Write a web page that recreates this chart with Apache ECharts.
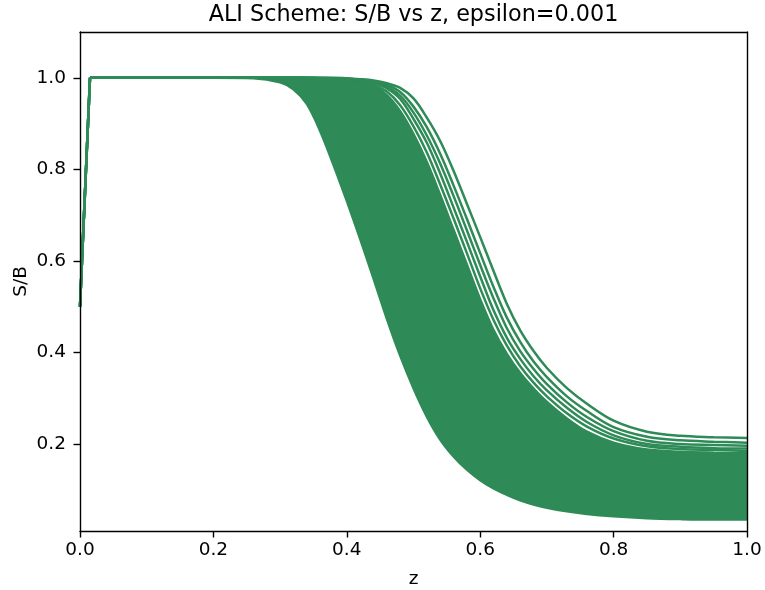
<!DOCTYPE html>
<html>
<head>
<meta charset="utf-8">
<script src="https://cdn.jsdelivr.net/npm/echarts@6/dist/echarts.min.js"></script>
<style>
  html, body { margin: 0; padding: 0; background: #ffffff; }
  #chart { width: 765px; height: 590px; }
</style>
</head>
<body>
<div id="chart"></div>
<script>
// Sample positions along z shared by every curve
const zGrid = [0, 0.015, 0.1, 0.2, 0.26, 0.30, 0.32, 0.34, 0.36, 0.38, 0.40, 0.42, 0.44, 0.46, 0.48,
  0.50, 0.52, 0.54, 0.56, 0.58, 0.60, 0.62, 0.64, 0.66, 0.68, 0.70, 0.73, 0.76, 0.80, 0.85, 0.90, 0.95, 1.0];

// Lowest curve of the family (earliest drop, lowest floor)
const sbLowest = [0.5, 1, 1, 1, 0.999, 0.990, 0.975, 0.943, 0.884, 0.810, 0.731, 0.648, 0.562, 0.474, 0.393,
  0.322, 0.260, 0.210, 0.173, 0.144, 0.121, 0.103, 0.089, 0.077, 0.068, 0.061, 0.053, 0.047, 0.042, 0.038, 0.036, 0.035, 0.035];

// Upper curves, from the highest floor downwards
const sbCurve1 = [0.5, 1, 1, 1, 1, 1, 1, 1, 1, 1, 0.999, 0.997, 0.994, 0.988, 0.978,
  0.955, 0.913, 0.862, 0.797, 0.725, 0.652, 0.578, 0.506, 0.448, 0.403, 0.366, 0.322, 0.288, 0.251, 0.227, 0.218, 0.215, 0.213];
const sbCurve2 = [0.5, 1, 1, 1, 1, 1, 1, 1, 1, 0.999, 0.998, 0.996, 0.992, 0.984, 0.969,
  0.937, 0.892, 0.834, 0.765, 0.692, 0.617, 0.543, 0.476, 0.423, 0.380, 0.346, 0.304, 0.272, 0.237, 0.216, 0.208, 0.205, 0.203];
const sbCurve3 = [0.5, 1, 1, 1, 1, 1, 1, 1, 0.999, 0.999, 0.998, 0.995, 0.990, 0.980, 0.961,
  0.924, 0.874, 0.813, 0.742, 0.667, 0.591, 0.518, 0.453, 0.403, 0.364, 0.331, 0.291, 0.259, 0.228, 0.207, 0.200, 0.198, 0.196];
const sbCurve4 = [0.5, 1, 1, 1, 1, 1, 1, 1, 0.999, 0.998, 0.997, 0.994, 0.988, 0.977, 0.954,
  0.910, 0.858, 0.791, 0.717, 0.642, 0.566, 0.492, 0.432, 0.386, 0.348, 0.317, 0.279, 0.248, 0.219, 0.200, 0.194, 0.191, 0.190];
const sbCurve5 = [0.5, 1, 1, 1, 1, 1, 1, 0.999, 0.998, 0.997, 0.996, 0.992, 0.984, 0.970, 0.940,
  0.894, 0.837, 0.767, 0.693, 0.617, 0.540, 0.471, 0.415, 0.370, 0.334, 0.304, 0.267, 0.238, 0.212, 0.195, 0.189, 0.187, 0.185];
const sbCurve6 = [0.5, 1, 1, 1, 1, 1, 1, 0.999, 0.998, 0.998, 0.996, 0.991, 0.981, 0.962, 0.927,
  0.877, 0.816, 0.744, 0.668, 0.592, 0.516, 0.449, 0.397, 0.355, 0.321, 0.292, 0.256, 0.227, 0.203, 0.188, 0.183, 0.181, 0.180];

// Axis ticks
const xTicks = [0, 0.2, 0.4, 0.6, 0.8, 1.0];
const yTicks = [0.2, 0.4, 0.6, 0.8, 1.0];

const GREEN = '#2E8B57';
const FONT = 'DejaVu Sans';
const TXT = { color: '#000', fontFamily: FONT, fontSize: 18.5 };
const LINE_W = 2.5;
const SMOOTH = 0.35;
const Y_MIN = 0.01, Y_MAX = 1.1;

// initial jump (first two samples) drawn straight, the rest as a smoothed curve
const rise = vals => zGrid.slice(0, 2).map((z, i) => [z, vals[i]]);
const body = vals => zGrid.slice(1).map((z, i) => [z, vals[i + 1]]);

const allCurves = [sbLowest, sbCurve6, sbCurve5, sbCurve4, sbCurve3, sbCurve2, sbCurve1];

const series = [
  // dense body of the family: fill under curve 6, then clear everything under the lowest curve
  {
    type: 'line', data: body(sbCurve6), smooth: SMOOTH, symbol: 'none', silent: true,
    lineStyle: { width: 0, opacity: 0 },
    areaStyle: { color: GREEN, opacity: 1, origin: 'start' }
  },
  {
    type: 'line', data: body(sbLowest), smooth: SMOOTH, symbol: 'none', silent: true,
    lineStyle: { width: 0, opacity: 0 },
    areaStyle: { color: '#ffffff', opacity: 1, origin: 'start' }
  }
];
allCurves.forEach(c => {
  series.push({
    type: 'line', data: body(c), smooth: SMOOTH, symbol: 'none', silent: true,
    lineStyle: { color: GREEN, width: LINE_W }
  });
  series.push({
    type: 'line', data: rise(c), symbol: 'none', silent: true,
    lineStyle: { color: GREEN, width: LINE_W }
  });
});

const frameLine = { show: true, onZero: false, lineStyle: { color: '#000', width: 1.4 } };
const tickStyle = { color: '#000', width: 1.4 };

const chart = echarts.init(document.getElementById('chart'), null, { renderer: 'canvas' });
chart.setOption({
  animation: false,
  backgroundColor: '#ffffff',
  graphic: [{
    type: 'text', x: 413.5, y: 15, silent: true,
    style: {
      text: 'ALI Scheme: S/B vs z, epsilon=0.001',
      fill: '#000', font: '22.3px "DejaVu Sans"',
      textAlign: 'center', textVerticalAlign: 'middle'
    }
  }],
  grid: {
    left: 80, right: 18, top: 32, bottom: 59,
    show: false, outerBoundsMode: 'none'
  },
  xAxis: [{
    type: 'value', min: 0, max: 1, interval: 0.2, z: 5,
    name: 'z', nameLocation: 'middle', nameGap: 39, nameMoveOverlap: false,
    nameTextStyle: TXT,
    axisLine: frameLine,
    axisTick: { show: true, length: 6.5, customValues: xTicks, lineStyle: tickStyle },
    axisLabel: { ...TXT, margin: 10, customValues: xTicks, formatter: v => v.toFixed(1) },
    splitLine: { show: false }
  }, {
    type: 'value', min: 0, max: 1, position: 'top', z: 5,
    axisLine: frameLine, axisTick: { show: false }, axisLabel: { show: false },
    splitLine: { show: false }
  }],
  yAxis: [{
    type: 'value', min: Y_MIN, max: Y_MAX, z: 5,
    name: 'S/B', nameLocation: 'middle', nameGap: 49, nameRotate: 90, nameMoveOverlap: false,
    nameTextStyle: TXT,
    axisLine: frameLine,
    axisTick: { show: true, length: 6.5, customValues: yTicks, lineStyle: tickStyle },
    axisLabel: { ...TXT, margin: 14, customValues: yTicks, formatter: v => v.toFixed(1) },
    splitLine: { show: false }
  }, {
    type: 'value', min: Y_MIN, max: Y_MAX, position: 'right', z: 5,
    axisLine: frameLine, axisTick: { show: false }, axisLabel: { show: false },
    splitLine: { show: false }
  }],
  series: series
});
</script>
</body>
</html>
